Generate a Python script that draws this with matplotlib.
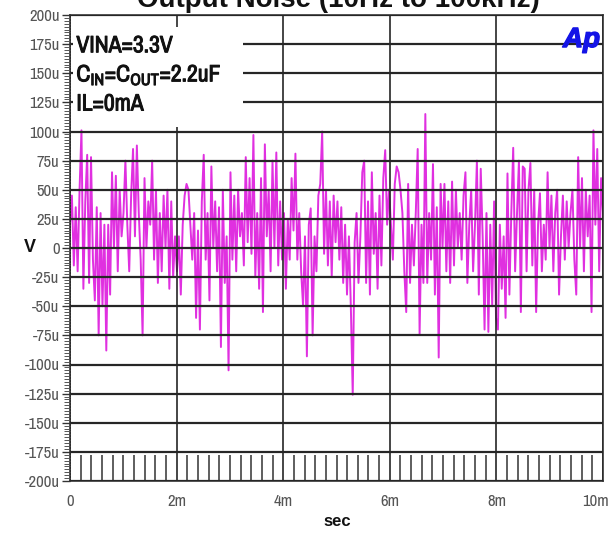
import numpy as np
import matplotlib
matplotlib.use("Agg")
import matplotlib.pyplot as plt
from matplotlib.ticker import MultipleLocator, FixedLocator
from matplotlib import font_manager as fm
from matplotlib.patches import Rectangle
from matplotlib.transforms import ScaledTranslation
import matplotlib.patheffects as pe


def pick(names):
    for n in names:
        try:
            fm.findfont(fm.FontProperties(family=n), fallback_to_default=False)
            return n
        except Exception:
            pass
    return "DejaVu Sans"


narrow_names = sorted({f.name for f in fm.fontManager.ttflist
                       if "Narrow" in f.name or "Condensed" in f.name})
HAVE_NARROW = len(narrow_names) > 0
NARROW = narrow_names[0] if HAVE_NARROW else pick(["Liberation Sans", "DejaVu Sans"])
ARIAL = pick(["Liberation Sans", "DejaVu Sans"])

# ---------------- data (values in microvolts) -------------
noise_uV = [
    20, 45, -15, 35, -20, 50, 101, -35, 40, 80, -30, 78, -10, -45,
    35, -75, 30, -50, 20, -88, 20, -40, 65, 0, 62, -20, 50, 10,
    30, 75, 20, -20, 45, 85, 10, 88, 30, -10, -75, 60, 0, 40,
    20, 75, -10, 50, -30, 30, -20, 45, 0, 50, -35, 40, -25, 10,
    -20, 10, -40, 20, 45, 55, 50, 20, -10, 30, -60, 15, -70, 40,
    80, -10, 30, -45, 70, 0, 40, -20, 35, -85, 50, -30, 10, -105,
    65, -10, 45, -20, 50, 10, 30, -15, 78, 5, 60, -5, 97, -25,
    30, -35, 60, -55, 89, 10, 50, -20, 75, 0, 82, -15, 40, -10,
    30, -35, 25, -10, 60, 15, 81, -10, 30, -20, -50, 10, -93, 20,
    34, -75, 10, -20, 45, 55, 100, -5, 50, -15, 40, -25, 45, 5,
    40, -10, 35, -30, 20, -40, 10, -50, -126, 5, 30, -30, 10, 65,
    75, -30, 40, -40, 65, -5, 30, -35, 45, -15, 60, 84, 20, 50,
    20, -10, 55, 70, 65, 50, 30, -20, -55, 55, -30, 20, -15, 30,
    85, -74, 20, -30, 115, -30, 30, -10, 72, -40, 35, -94, 55, 0,
    55, -20, 40, -30, 57, -15, 50, 0, 30, -10, 45, 65, -30, 20,
    50, -20, 20, 75, -40, 68, 10, -70, 30, -72, 20, -50, 40, -60,
    -70, 20, -35, 10, -60, 64, -40, 30, 86, -20, 30, 75, -55, 70,
    68, -20, 50, 73, -15, 50, -55, 20, 47, -20, 20, -10, 65, 0,
    45, -20, 30, 50, -40, 10, 45, -10, 40, 0, 30, 50, -10, -40,
    78, 0, 60, -20, 50, 10, 45, -55, 101, 20, 85, -20, 60, 30,
]
t_start_ms, t_end_ms = 0.0, 10.0

y_ticks = list(range(-200, 201, 25))
y_labels = ["0" if v == 0 else f"{v}u" for v in y_ticks]
x_ticks = [0, 2, 4, 6, 8, 10]
x_labels = ["0", "2m", "4m", "6m", "8m", "10m"]

title = "Output Noise (10Hz to 100kHz)"
notes = ["VINA=3.3V", "C$_{IN}$=C$_{OUT}$=2.2uF", "IL=0mA"]
note_levels = [175, 150, 125]

# ---------------- figure -------------
plt.rcParams["mathtext.fontset"] = "custom"
plt.rcParams["mathtext.rm"] = f"{NARROW}:bold"
plt.rcParams["mathtext.it"] = f"{NARROW}:bold"
plt.rcParams["mathtext.bf"] = f"{NARROW}:bold"

tick_fs = 12 if HAVE_NARROW else 10.5
note_fs = 17 if HAVE_NARROW else 15
bold_fx = [pe.withStroke(linewidth=0.7, foreground="#111111")]

W, H = 610, 535
fig = plt.figure(figsize=(W / 100, H / 100), dpi=100)
fig.patch.set_facecolor("white")
ax = fig.add_axes([70 / W, 1 - 481 / H, 533 / W, 466 / H])

t_ms = np.linspace(t_start_ms, t_end_ms, len(noise_uV))
ax.plot(t_ms, noise_uV, color="#e030e0", lw=1.4, zorder=2)

ax.set_xlim(0, 10)
ax.set_ylim(-200, 200)

ax.yaxis.set_major_locator(FixedLocator(y_ticks))
ax.set_yticklabels(y_labels)
ax.yaxis.set_minor_locator(MultipleLocator(2.5))
ax.xaxis.set_major_locator(FixedLocator(x_ticks))
ax.set_xticklabels(x_labels)
ax.xaxis.set_minor_locator(MultipleLocator(0.2))

ax.tick_params(axis="y", which="major", direction="out", length=6, width=1.0,
               color="#333333", pad=1.5, labelsize=tick_fs, labelcolor="#555555")
ax.tick_params(axis="y", which="minor", direction="out", length=4, width=0.7,
               color="#555555")
ax.tick_params(axis="x", which="major", length=0, pad=9, labelsize=tick_fs,
               labelcolor="#555555")
ax.tick_params(axis="x", which="minor", direction="in", length=19, width=1.1,
               color="#333333")
for lab in ax.get_xticklabels() + ax.get_yticklabels():
    lab.set_fontfamily(NARROW)
last = ax.get_xticklabels()[-1]
last.set_horizontalalignment("right")
last.set_transform(last.get_transform() + ScaledTranslation(6 / 100, 0, fig.dpi_scale_trans))

ax.set_axisbelow(False)
ax.yaxis.grid(True, which="major", color="#262626", lw=1.6)
ax.xaxis.grid(True, which="major", color="#262626", lw=1.2)

for side in ["left", "right", "top", "bottom"]:
    ax.spines[side].set_color("#333333")
    ax.spines[side].set_linewidth(1.2)

# white label box covering the grid in the upper left
ax.add_patch(Rectangle((0.05, 104), 3.2, 86, facecolor="white",
                       edgecolor="none", zorder=3))
for txt, lvl in zip(notes, note_levels):
    ax.text(0.12, lvl - 7.0, txt, fontsize=note_fs, fontweight="bold",
            family=NARROW, color="#111111", va="baseline", ha="left", zorder=4,
            path_effects=bold_fx)

ax.text(9.25, 172.5, "Ap", fontsize=20, fontweight="bold", fontstyle="italic",
        family=ARIAL, color="#1414e6", va="baseline", ha="left", zorder=4,
        path_effects=[pe.withStroke(linewidth=1.0, foreground="#1414e6")])

fig.text(338 / W, 1 - 7 / H, title, fontsize=20, fontweight="bold",
         family=ARIAL, ha="center", va="baseline", color="#111111")
fig.text(30 / W, 1 - 247 / H, "V", fontsize=13, fontweight="bold",
         family=ARIAL, ha="center", va="center", color="#111111")
fig.text(337 / W, 1 - 521 / H, "sec", fontsize=12, fontweight="bold",
         family=ARIAL, ha="center", va="center", color="#111111")

fig.savefig("out.png", dpi=100, facecolor="white")
